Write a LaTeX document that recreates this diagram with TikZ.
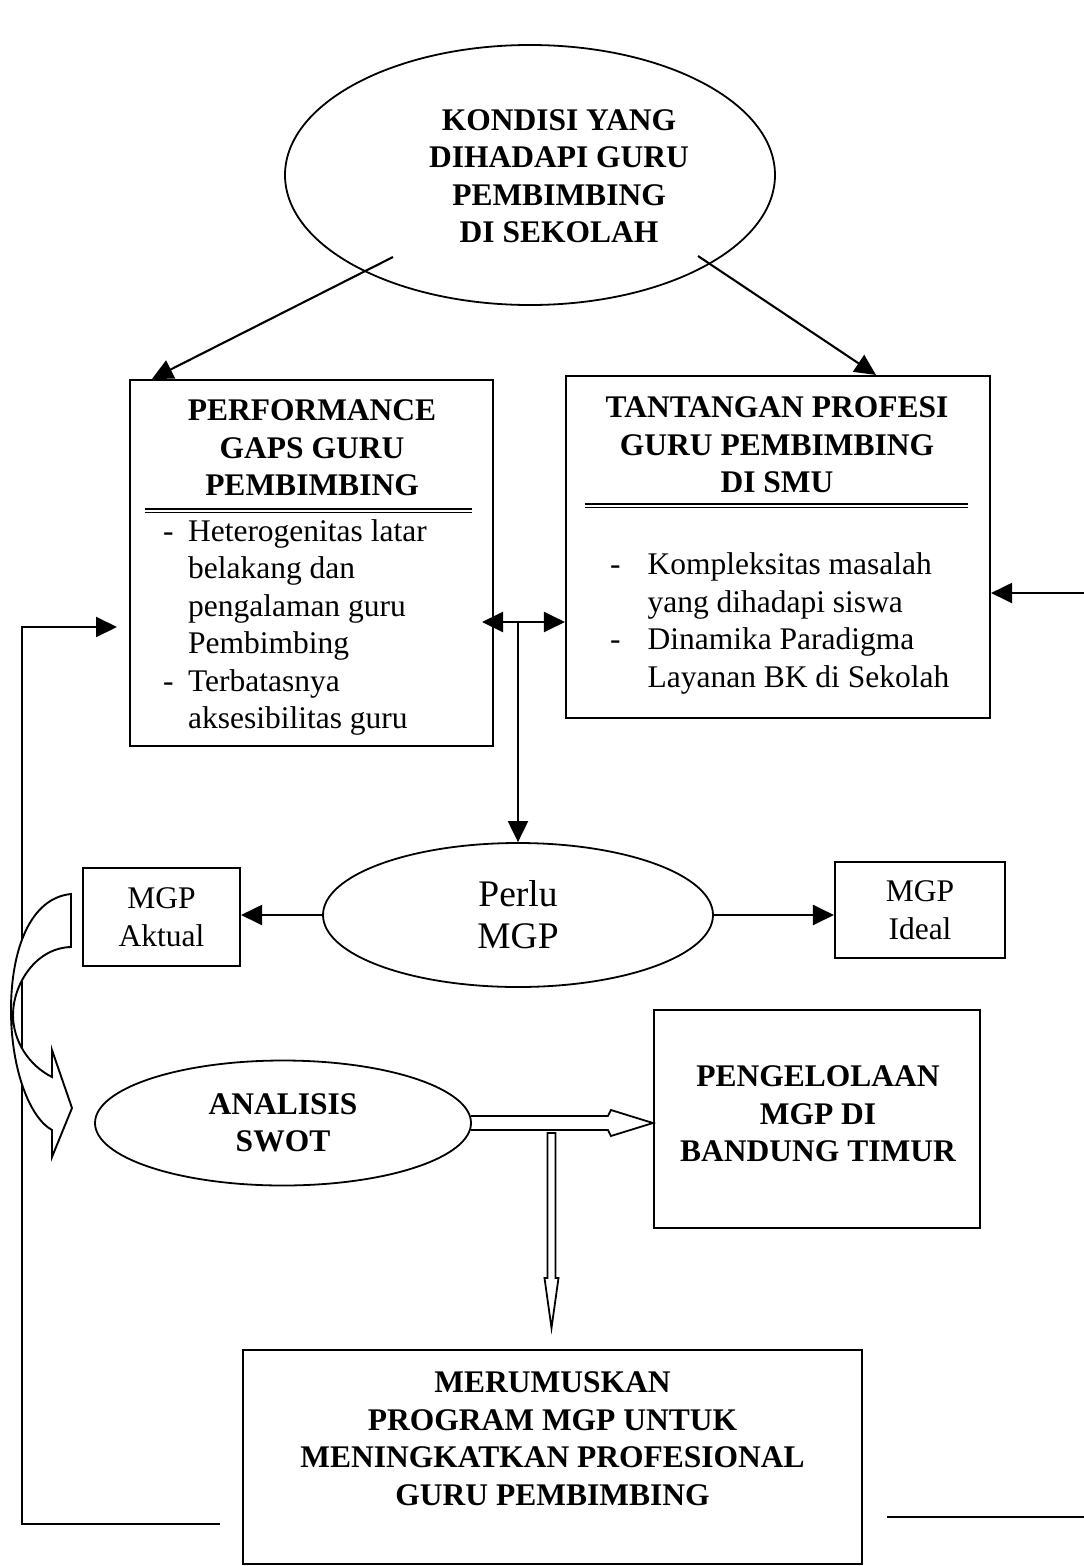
\documentclass[tikz,border=0pt]{standalone}
\usepackage{fontspec}
\setmainfont{Liberation Serif}
\usetikzlibrary{shapes.geometric,arrows.meta,calc}
\begin{document}
\begin{tikzpicture}[x=1pt,y=-1pt,
  line width=2.1pt,
  >={Triangle[length=21pt,width=20pt]},
  txt/.style={font=\fontsize{31.5}{37.5}\selectfont, align=center, inner sep=0pt},
  btxt/.style={font=\fontsize{31.5}{37.5}\selectfont\bfseries, align=center, inner sep=0pt},
  box/.style={draw, rectangle, inner sep=0pt},
  oval/.style={draw, ellipse, inner sep=0pt, line width=1.8pt},
  hollow/.style={line width=1.8pt, line join=miter},
]
\useasboundingbox (0,0) rectangle (1084,1566);

% top ellipse
\node[oval, minimum width=490pt, minimum height=260pt] (kondisi) at (530,175) {};
\node[btxt] (kondisiT) at (559,176) {KONDISI YANG\\DIHADAPI GURU\\PEMBIMBING\\DI SEKOLAH};

% two boxes
\node[box, minimum width=363pt, minimum height=366pt] (gaps) at (311.5,563) {};
\node[box, minimum width=424pt, minimum height=342pt] (tant) at (778,547) {};

\node[btxt] (gapsT) at (312,448) {PERFORMANCE\\GAPS GURU\\PEMBIMBING};
\node[btxt] (tantT) at (777,445) {TANTANGAN PROFESI\\GURU PEMBIMBING\\DI SMU};

\draw[line width=2.2pt] (145,509) -- (472,509);
\draw[line width=1.1pt] (145,512.8) -- (472,512.8);
\draw[line width=2.2pt] (585,504) -- (968,504);
\draw[line width=1.1pt] (585,507.8) -- (968,507.8);

\node[txt, anchor=west, align=left] (gapsL) at (162,627.5) {\begin{tabular}{@{}l@{\hspace{14.5pt}}l@{}}
- & Heterogenitas latar\\
  & belakang dan\\
  & pengalaman guru\\
  & Pembimbing\\
- & Terbatasnya\\
  & aksesibilitas guru
\end{tabular}};
\node[txt, anchor=west, align=left] (tantL) at (609,623.5) {\begin{tabular}{@{}l@{\hspace{27pt}}l@{}}
- & Kompleksitas masalah\\
  & yang dihadapi siswa\\
- & Dinamika Paradigma\\
  & Layanan BK di Sekolah
\end{tabular}};

% arrows from top ellipse
\coordinate (k1) at (393,257);
\coordinate (k2) at (698,256);
\draw[->] (k1) -- ($(gaps.north west)+(23,0)$);
\draw[->] (k2) -- ($(tant.north west)+(311,0)$);

% middle ellipse and side boxes
\node[oval, minimum width=390pt, minimum height=144pt, font=\fontsize{37.5}{42}\selectfont, align=center] (perlu) at (518,915) {Perlu\\MGP};
\node[box, txt, minimum width=157pt, minimum height=98pt] (aktual) at (161.5,917) {MGP\\Aktual};
\node[box, txt, minimum width=170pt, minimum height=96pt] (ideal) at (920,910) {MGP\\Ideal};

% double arrow and down arrow
\coordinate (jn) at (518,622);
\coordinate (dl) at (482,622);
\draw[<->] (dl) -- (dl -| tant.west);
\draw[->] (jn) -- (perlu.north);

% right incoming arrow
\coordinate (rin) at (1084,593);
\draw[->] (rin) -- (rin -| tant.east);

\draw[->] (perlu.west) -- (perlu.west -| aktual.east);
\draw[->] (perlu.east) -- (perlu.east -| ideal.west);

% SWOT and management
\node[oval, btxt, minimum width=376pt, minimum height=125pt] (swot) at (283,1123) {ANALISIS\\SWOT};
\node[box, minimum width=326pt, minimum height=218pt] (peng) at (817,1119) {};
\node[btxt] (pengT) at (818,1114) {PENGELOLAAN\\MGP DI\\BANDUNG TIMUR};

% bottom box
\node[box, minimum width=619pt, minimum height=214pt] (merum) at (552.5,1457) {};
\node[btxt] (merumT) at (552.5,1438.5) {MERUMUSKAN\\PROGRAM MGP UNTUK\\MENINGKATKAN PROFESIONAL\\GURU PEMBIMBING};

% hollow arrows
\coordinate (hs) at (swot.east);
\coordinate (ht) at (swot.east -| peng.west);
\draw[hollow] ($(hs)+(-1,-7)$) -- ($(ht)+(-45,-7)$) -- ($(ht)+(-42,-13)$) -- (ht) -- ($(ht)+(-42,13)$) -- ($(ht)+(-45,7)$) -- ($(hs)+(-1,7)$);
\coordinate (vs) at (551.5,1133);
\coordinate (vt) at (551.5,1328);
\draw[hollow] ($(vs)+(-4,0)$) -- ($(vt)+(-4,-50)$) -- ($(vt)+(-7,-50)$) -- (vt) -- ($(vt)+(7,-50)$) -- ($(vt)+(4,-50)$) -- ($(vs)+(4,0)$) -- cycle;

% feedback line on left
\coordinate (fbs) at (220,1524);
\coordinate (fbc) at (22,1524);
\coordinate (fbe) at (117,627);
\draw[->] (fbs) -- (fbc) |- (fbe);

% bottom right line
\coordinate (brs) at (887,1517);
\coordinate (bre) at (1084,1517);
\draw (brs) -- (bre);

% curved hollow arrow
\draw[line width=1.9pt, fill=white, line join=miter] (71,894) .. controls (30,898) and (11,950) .. (11,1010) .. controls (11,1070) and (30,1118) .. (52,1130) -- (52,1157) -- (72,1108) -- (52,1050) -- (52,1077) .. controls (28,1065) and (13,1040) .. (13,1015) .. controls (13,985) and (35,948) .. (71,947) -- cycle;
\end{tikzpicture}
\end{document}
